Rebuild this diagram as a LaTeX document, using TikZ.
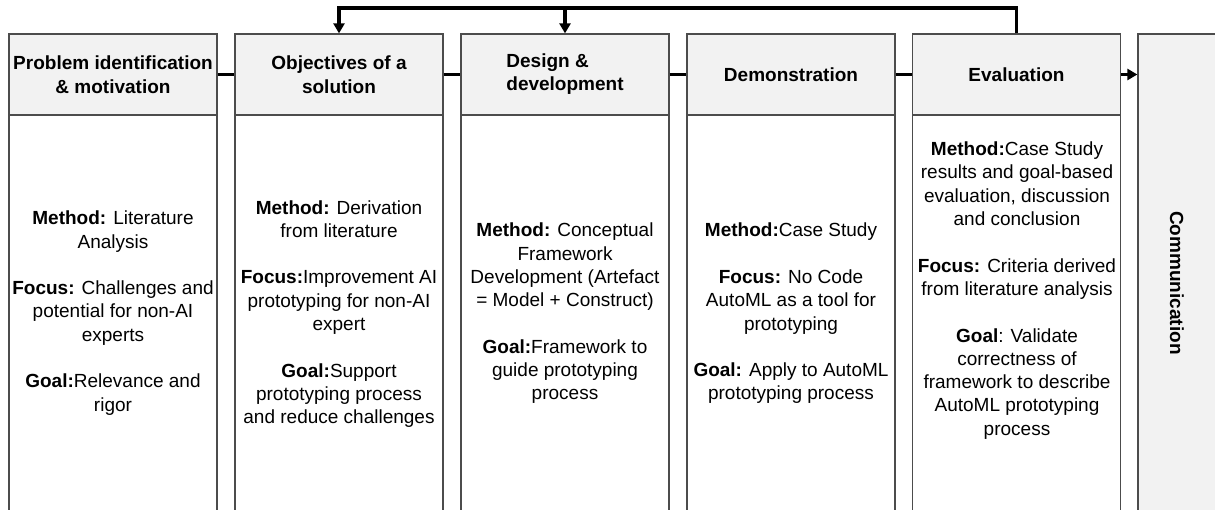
\documentclass[tikz,border=0pt]{standalone}
\usepackage{fontspec}
\setmainfont{Liberation Sans}
\usetikzlibrary{arrows.meta}

\tikzset{
    phase/.style={draw=black!70, fill=black!5, line width=1.3pt, minimum width=208pt, minimum height=81pt, inner sep=0pt, align=center, font=\bfseries\fontsize{19}{23.5}\selectfont},
    body/.style={draw=black!70, line width=1.3pt, minimum width=208pt, minimum height=400pt, inner sep=0pt},
    txt/.style={align=center, inner sep=0pt, font=\fontsize{19}{23.3}\selectfont},
    link/.style={line width=3.5pt},
    tip/.style={-{Triangle[length=10pt, width=11pt]}}
}

\begin{document}
\begin{tikzpicture}[x=1pt, y=-1pt]
    \useasboundingbox (0,0) rectangle (1215,510);

    % phases
    \node[phase] (prob) at (113, 74.5) {Problem identification\\ \& motivation};
    \node[phase] (obj) at (339, 74.5) {Objectives of a\\ solution};
    \node[phase] (design) at (565, 74.5) {\begin{tabular}{@{}l@{}}Design \&\\ development\end{tabular}};
    \node[phase] (demo) at (791, 74.5) {Demonstration};
    \node[phase] (eval) at (1016.5, 74.5) {Evaluation};
    \node[phase, minimum width=80pt, minimum height=481pt] (comm) at (1178, 274.5) {};
    \node[txt, font=\bfseries\fontsize{19}{23.3}\selectfont, rotate=-90] (commtxt) at (1177, 283) {Communication};

    % bodies
    \node[body] (probbody) at (113, 315) {};
    \node[body] (objbody) at (339, 315) {};
    \node[body] (designbody) at (565, 315) {};
    \node[body] (demobody) at (791, 315) {};
    \node[body] (evalbody) at (1016.5, 315) {};

    \node[txt] (probtxt) at (113, 313) {\textbf{Method:} Literature\\ Analysis\\[23.3pt]
        \textbf{Focus:} Challenges and\\ potential for non-AI\\ experts\\[23.3pt]
        \textbf{Goal:}Relevance and\\ rigor};
    \node[txt] (objtxt) at (339, 314) {\textbf{Method:} Derivation\\ from literature\\[23.3pt]
        \textbf{Focus:}Improvement AI\\ prototyping for non-AI\\ expert\\[23.3pt]
        \textbf{Goal:}Support\\ prototyping process\\ and reduce challenges};
    \node[txt] (designtxt) at (565, 313.5) {\textbf{Method:} Conceptual\\ Framework\\ Development (Artefact\\ = Model + Construct)\\[23.3pt]
        \textbf{Goal:}Framework to\\ guide prototyping\\ process};
    \node[txt] (demotxt) at (791, 313.5) {\textbf{Method:}Case Study\\[23.3pt]
        \textbf{Focus:} No Code\\ AutoML as a tool for\\ prototyping\\[23.3pt]
        \textbf{Goal:} Apply to AutoML\\ prototyping process};
    \node[txt] (evaltxt) at (1017, 290.5) {\textbf{Method:}Case Study\\ results and goal-based\\ evaluation, discussion\\ and conclusion\\[23.3pt]
        \textbf{Focus:} Criteria derived\\ from literature analysis\\[23.3pt]
        \textbf{Goal}: Validate\\ correctness of\\ framework to describe\\ AutoML prototyping\\ process};

    % flow
    \draw[link] (prob) -- (obj);
    \draw[link] (obj) -- (design);
    \draw[link] (design) -- (demo);
    \draw[link] (demo) -- (eval);
    \draw[link, tip] (eval.east) -- (eval.east -| comm.west);

    % iteration
    \coordinate (loop) at (1016.5, 8);
    \draw[link, tip] (eval.north) -- (loop) -| (obj.north);
    \draw[link, tip] (design.north |- loop) -- (design.north);
\end{tikzpicture}
\end{document}
